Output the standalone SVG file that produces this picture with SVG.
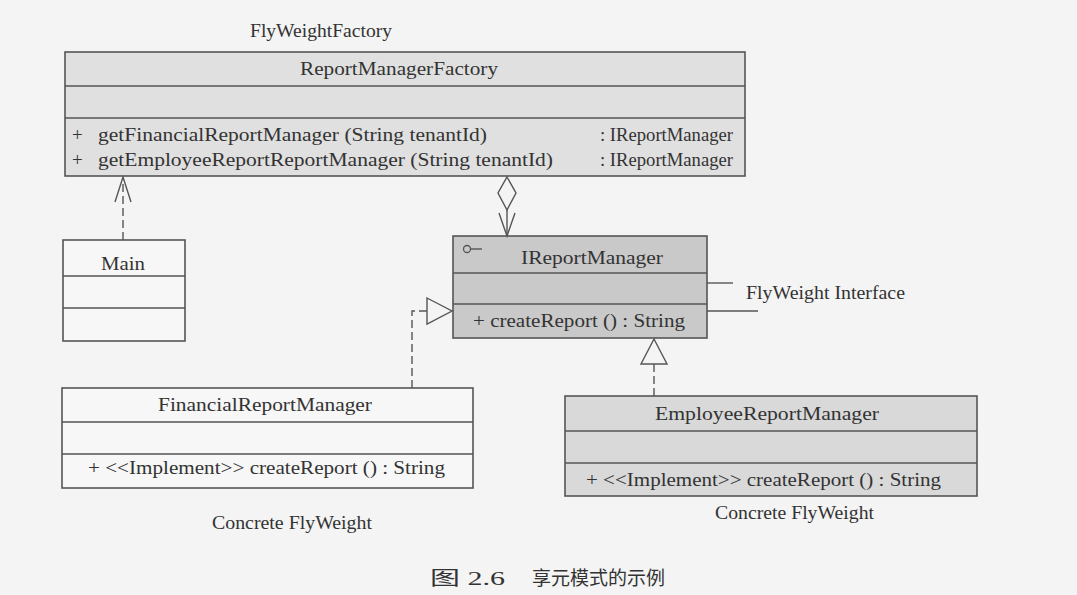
<svg xmlns="http://www.w3.org/2000/svg" width="1077" height="595" viewBox="0 0 1077 595">
<style>
  .t { font-family: "Liberation Serif", "Times New Roman", serif; font-size: 19px; fill: #333; }
  .c { font-family: "Liberation Serif", "Noto Sans CJK SC", serif; font-size: 19px; fill: #333; }
  .box { stroke: #555; stroke-width: 1.6; }
  .div { stroke: #555; stroke-width: 1.6; fill: none; }
  .ln { stroke: #555; stroke-width: 1.4; fill: none; }
  .dash { stroke: #555; stroke-width: 1.4; fill: none; stroke-dasharray: 8 4; }
  .hollow { stroke: #555; stroke-width: 1.4; fill: #f4f4f4; }
</style>
<rect width="1077" height="595" fill="#f4f4f4"/>

<text class="t" x="250" y="37" textLength="142" lengthAdjust="spacingAndGlyphs">FlyWeightFactory</text>

<g id="ReportManagerFactory">
  <rect class="box" x="65" y="52" width="680" height="124" fill="#e0e0e0"/>
  <line class="div" x1="65" y1="86" x2="745" y2="86"/>
  <line class="div" x1="65" y1="118" x2="745" y2="118"/>
  <text class="t" x="300" y="75" textLength="198" lengthAdjust="spacingAndGlyphs">ReportManagerFactory</text>
  <text class="t" x="72" y="141">+</text>
  <text class="t" x="98" y="141" textLength="389" lengthAdjust="spacingAndGlyphs">getFinancialReportManager (String tenantId)</text>
  <text class="t" x="600" y="141" textLength="133" lengthAdjust="spacingAndGlyphs">: IReportManager</text>
  <text class="t" x="72" y="166">+</text>
  <text class="t" x="98" y="166" textLength="455" lengthAdjust="spacingAndGlyphs">getEmployeeReportReportManager (String tenantId)</text>
  <text class="t" x="600" y="166" textLength="133" lengthAdjust="spacingAndGlyphs">: IReportManager</text>
</g>

<g id="Main">
  <rect class="box" x="63" y="240" width="122" height="101" fill="#f7f7f7"/>
  <line class="div" x1="63" y1="276" x2="185" y2="276"/>
  <line class="div" x1="63" y1="308" x2="185" y2="308"/>
  <text class="t" x="101" y="270" textLength="44" lengthAdjust="spacingAndGlyphs">Main</text>
</g>

<g id="IReportManager">
  <rect class="box" x="453" y="236" width="254" height="102" fill="#c9c9c9"/>
  <line class="div" x1="453" y1="273" x2="707" y2="273"/>
  <line class="div" x1="453" y1="304" x2="707" y2="304"/>
  <circle cx="467" cy="249" r="3.5" fill="none" stroke="#555" stroke-width="1.3"/>
  <line class="ln" x1="470.5" y1="249" x2="482" y2="249"/>
  <text class="t" x="521" y="264" textLength="142" lengthAdjust="spacingAndGlyphs">IReportManager</text>
  <text class="t" x="473" y="327" textLength="212" lengthAdjust="spacingAndGlyphs">+ createReport () : String</text>
</g>

<g id="FlyWeightInterfaceLabel">
  <line class="ln" x1="707" y1="283" x2="733" y2="283"/>
  <line class="ln" x1="707" y1="311" x2="758" y2="311"/>
  <text class="t" x="746" y="299" textLength="159" lengthAdjust="spacingAndGlyphs">FlyWeight Interface</text>
</g>

<g id="FinancialReportManager">
  <rect class="box" x="62" y="388" width="411" height="100" fill="#f7f7f7"/>
  <line class="div" x1="62" y1="422" x2="473" y2="422"/>
  <line class="div" x1="62" y1="454" x2="473" y2="454"/>
  <text class="t" x="158" y="411" textLength="214" lengthAdjust="spacingAndGlyphs">FinancialReportManager</text>
  <text class="t" x="88" y="474" textLength="357" lengthAdjust="spacingAndGlyphs">+ &lt;&lt;Implement&gt;&gt; createReport () : String</text>
</g>

<g id="EmployeeReportManager">
  <rect class="box" x="565" y="396" width="412" height="100" fill="#d9d9d9"/>
  <line class="div" x1="565" y1="431" x2="977" y2="431"/>
  <line class="div" x1="565" y1="463" x2="977" y2="463"/>
  <text class="t" x="655" y="420" textLength="224" lengthAdjust="spacingAndGlyphs">EmployeeReportManager</text>
  <text class="t" x="586" y="486" textLength="355" lengthAdjust="spacingAndGlyphs">+ &lt;&lt;Implement&gt;&gt; createReport () : String</text>
</g>

<g id="connectors">
  <line class="dash" x1="123" y1="240" x2="123" y2="178"/>
  <polyline class="ln" points="115,202 123,177 131,202"/>
  <polygon class="hollow" points="507,177 516,193 507,210 498,193"/>
  <line class="ln" x1="507" y1="210" x2="507" y2="236"/>
  <polyline class="ln" points="499,213 507,236 515,213"/>
  <polyline class="dash" points="412,388 412,311 427,311"/>
  <polygon class="hollow" points="427,298 452,311 427,324"/>
  <line class="dash" x1="654" y1="396" x2="654" y2="364"/>
  <polygon class="hollow" points="654,339 667,364 641,364"/>
</g>

<text class="t" x="212" y="529" textLength="160" lengthAdjust="spacingAndGlyphs">Concrete FlyWeight</text>
<text class="t" x="715" y="519" textLength="159" lengthAdjust="spacingAndGlyphs">Concrete FlyWeight</text>

<text class="c" x="430" y="585" textLength="75" lengthAdjust="spacingAndGlyphs">图 2.6</text>
<text class="c" x="532" y="585" textLength="133" lengthAdjust="spacingAndGlyphs">享元模式的示例</text>
</svg>
